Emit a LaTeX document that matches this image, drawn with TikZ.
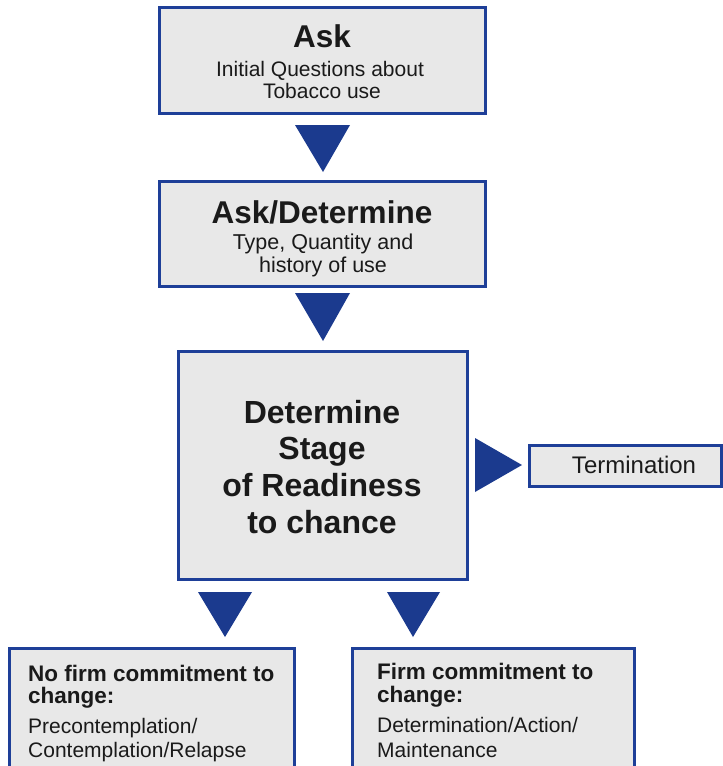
\documentclass[tikz,border=0pt]{standalone}
\usepackage{fontspec}
\setmainfont{Liberation Sans}
\definecolor{boxblue}{HTML}{1E3F98}
\definecolor{trifill}{HTML}{1B3A8E}
\definecolor{boxgray}{HTML}{E8E8E8}
\definecolor{ink}{HTML}{1A1A1A}
\begin{document}
\begin{tikzpicture}[x=1pt,y=-1pt,
  box/.style={draw=boxblue, line width=3pt, fill=boxgray, inner sep=0pt},
  tri/.style={fill=trifill},
  txt/.style={anchor=base, inner sep=0pt, text=ink},
  txtl/.style={anchor=base west, inner sep=0pt, text=ink},
  big/.style={font=\fontsize{31.5}{37}\selectfont\bfseries},
  mid/.style={font=\fontsize{21}{25}\selectfont},
  head/.style={font=\fontsize{22.5}{26}\selectfont\bfseries},
]
\useasboundingbox (0,0) rectangle (723,766);
\clip (0,0) rectangle (723,766);

% boxes
\node[box, minimum width=326pt, minimum height=106pt] (ask) at (322,60) {};
\node[box, minimum width=326pt, minimum height=105pt] (askdet) at (322,233.5) {};
\node[box, minimum width=289pt, minimum height=228pt] (stage) at (322.5,465) {};
\node[box, minimum width=192pt, minimum height=41pt] (term) at (625,465.5) {};
\node[box, minimum width=285pt, minimum height=152pt] (nofirm) at (151.5,724) {};
\node[box, minimum width=282pt, minimum height=152pt] (firm) at (493,724) {};

% triangles
\fill[tri] (295,125) -- (350,125) -- (323,172) -- cycle;
\fill[tri] (295,293) -- (350,293) -- (323,341) -- cycle;
\fill[tri] (198,592) -- (252,592) -- (225,637) -- cycle;
\fill[tri] (387,592) -- (440,592) -- (413,637) -- cycle;
\fill[tri] (475,438) -- (475,492) -- (522,465) -- cycle;

% texts box 1
\node[txt, big] (t1a) at (322,47) {Ask};
\node[txt, mid] (t1b) at (320,76) {Initial Questions about};
\node[txt, mid] (t1c) at (322,98) {Tobacco use};

% texts box 2
\node[txt, big] (t2a) at (322,223) {Ask/Determine};
\node[txt, font=\fontsize{21.5}{25}\selectfont] (t2b) at (323,249) {Type, Quantity and};
\node[txt, font=\fontsize{21.5}{25}\selectfont] (t2c) at (323,272) {history of use};

% texts box 3
\node[txt, font=\fontsize{32}{37}\selectfont\bfseries] (t3a) at (322,423) {Determine};
\node[txt, font=\fontsize{32}{37}\selectfont\bfseries] (t3b) at (322,459) {Stage};
\node[txt, font=\fontsize{32}{37}\selectfont\bfseries] (t3c) at (322,496) {of Readiness};
\node[txt, font=\fontsize{32}{37}\selectfont\bfseries] (t3d) at (322,533) {to chance};

% termination
\node[txt, font=\fontsize{24}{28}\selectfont] (t4) at (634,473) {Termination};

% bottom left
\node[txtl, head] (t5a) at (28,681) {No firm commitment to};
\node[txtl, head] (t5b) at (28,703) {change:};
\node[txtl, mid] (t5c) at (28,733) {Precontemplation/};
\node[txtl, mid] (t5d) at (28,757) {Contemplation/Relapse};

% bottom right
\node[txtl, head] (t6a) at (377,679) {Firm commitment to};
\node[txtl, head] (t6b) at (377,702) {change:};
\node[txtl, mid] (t6c) at (377,732) {Determination/Action/};
\node[txtl, mid] (t6d) at (377,757) {Maintenance};
\end{tikzpicture}
\end{document}
